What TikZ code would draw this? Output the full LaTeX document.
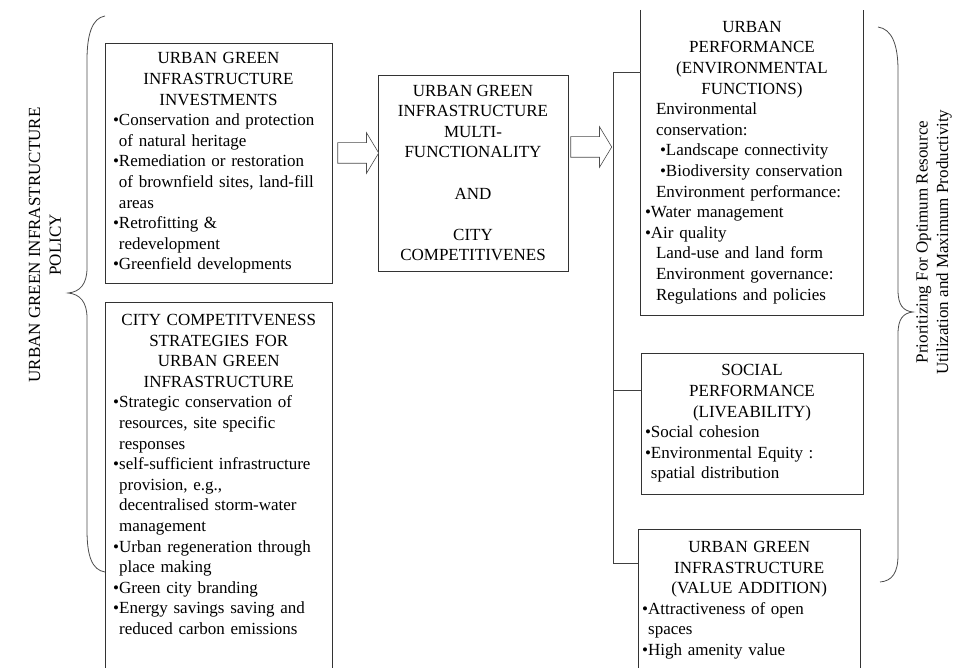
\documentclass[tikz,border=0pt]{standalone}
\usepackage{fontspec}
\setmainfont{Liberation Serif}
\usepackage{tikz}
\usetikzlibrary{shapes, arrows, positioning}
\setlength{\parindent}{0pt}
\newcommand{\ubul}{\textbullet}
\newcommand{\upad}{\phantom{\textbullet}}
\tikzstyle{box} = [rectangle, draw = black!80, line width = 0.8pt, inner xsep = 8pt, text width = 211pt]
\tikzstyle{sidebox} = [rectangle, draw = black!80, line width = 0.8pt, inner xsep = 4pt, text width = 214pt]
\tikzstyle{openbox} = [rectangle, inner xsep = 4pt, inner ysep = 12pt, text width = 214pt]
\tikzstyle{outline} = [draw = black!80, line width = 0.8pt]
\tikzstyle{link} = [draw = black!75, line width = 0.8pt]
\tikzstyle{brace} = [draw = black!70, line width = 0.8pt]
\tikzstyle{hollow} = [single arrow, draw = black!70, line width = 0.6pt, fill = white, inner sep = 10pt,
minimum height = 41pt, single arrow head extend = 10pt, single arrow tip angle = 118]

\begin{document}
\begin{tikzpicture} [x = 1pt, y = -1pt, font = \fontsize{17}{20.6}\selectfont]
\useasboundingbox (0,0) rectangle (953,668);
\coordinate (floor) at (0,690);

% left column
\node (invest) [box, minimum width = 227pt, minimum height = 240pt] at (218.5,163) {{\centering URBAN GREEN\\INFRASTRUCTURE\\INVESTMENTS\par}\raggedright
\ubul Conservation and protection\\
\upad of natural heritage\\
\ubul Remediation or restoration\\
\upad of brownfield sites, land-fill\\
\upad areas\\
\ubul Retrofitting \&\\
\upad redevelopment\\
\ubul Greenfield developments};
\node (strategy) [openbox, inner xsep = 8pt, text width = 211pt, anchor = north west] at (105,302) {{\centering CITY COMPETITVENESS\\STRATEGIES FOR\\URBAN GREEN\\INFRASTRUCTURE\par}\raggedright
\ubul Strategic conservation of\\
\upad resources, site specific\\
\upad responses\\
\ubul self-sufficient infrastructure\\
\upad provision, e.g.,\\
\upad decentralised storm-water\\
\upad management\\
\ubul Urban regeneration through\\
\upad place making\\
\ubul Green city branding\\
\ubul Energy savings saving and\\
\upad reduced carbon emissions};
\draw [outline] (strategy.north west |- floor) -- (strategy.north west) -- (strategy.north east) -- (strategy.north east |- floor);

% middle
\node (multi) [rectangle, draw = black!80, line width = 0.8pt, align = center, minimum width = 190pt, minimum height = 196pt] at (473,173) {URBAN GREEN\\INFRASTRUCTURE\\MULTI-\\FUNCTIONALITY\\[20.6pt]AND\\[20.6pt]CITY\\COMPETITIVENES};

% right column
\node (env) [openbox, inner ysep = 0pt, minimum width = 222pt, minimum height = 305pt] at (752,162.5) {{\centering URBAN\\PERFORMANCE\\(ENVIRONMENTAL\\FUNCTIONS)\par}\raggedright
\hspace*{11pt}Environmental\\
\hspace*{11pt}conservation:\\
\hspace*{15pt}\ubul Landscape connectivity\\
\hspace*{15pt}\ubul Biodiversity conservation\\
\hspace*{11pt}Environment performance:\\
\ubul Water management\\
\ubul Air quality\\
\hspace*{11pt}Land-use and land form\\
\hspace*{11pt}Environment governance:\\
\hspace*{11pt}Regulations and policies};
\draw [outline] (env.north west) -- (env.south west) -- (env.south east) -- (env.north east);
\node (social) [sidebox, minimum width = 222pt, minimum height = 141pt] at (752,423.5) {{\centering SOCIAL\\PERFORMANCE\\(LIVEABILITY)\par}\raggedright
\ubul Social cohesion\\
\ubul Environmental Equity :\\
\upad spatial distribution};
\node (value) [openbox, minimum width = 222pt, anchor = north west] at (638,529) {{\centering URBAN GREEN\\INFRASTRUCTURE\\(VALUE ADDITION)\par}\raggedright
\ubul Attractiveness of open\\
\upad spaces\\
\ubul High amenity value};
\draw [outline] (value.north west |- floor) -- (value.north west) -- (value.north east) -- (value.north east |- floor);

% block arrows
\node (toward) [hollow, anchor = tail] at ([xshift = 5pt, yshift = 10pt] invest.east) {};
\node (onward) [hollow, anchor = tail] at ([xshift = 2pt, yshift = 26pt] multi.east) {};

% connector tree
\coordinate (trunkA) at (613,72);
\coordinate (trunkB) at (613,390);
\coordinate (trunkC) at (613,563);
\draw [link] (env.west |- trunkA) -- (trunkA) -- (trunkC) -- (value.west |- trunkC);
\draw [link] (trunkB) -- (social.west |- trunkB);

% braces and side labels
\draw [brace] (105,16) .. controls (92,18) and (87,35) .. (87,60) -- (87,268) .. controls (87,284) and (80,292) .. (68,293) .. controls (80,294) and (87,302) .. (87,318) -- (87,530) .. controls (87,556) and (92,570) .. (105,572);
\draw [brace] (878,27) .. controls (892,29) and (898,45) .. (898,70) -- (898,290) .. controls (898,305) and (903,311) .. (913,312) .. controls (903,313) and (898,319) .. (898,334) -- (898,555) .. controls (898,573) and (892,581) .. (880,582);
\node (policy) [rotate = 90, align = center] at (45,245) {URBAN GREEN INFRASTRUCTURE\\POLICY};
\node (priority) [rotate = 90, align = center] at (934,242) {Prioritizing For Optimum Resource\\Utilization and Maximum Productivity};
\end{tikzpicture}
\end{document}
